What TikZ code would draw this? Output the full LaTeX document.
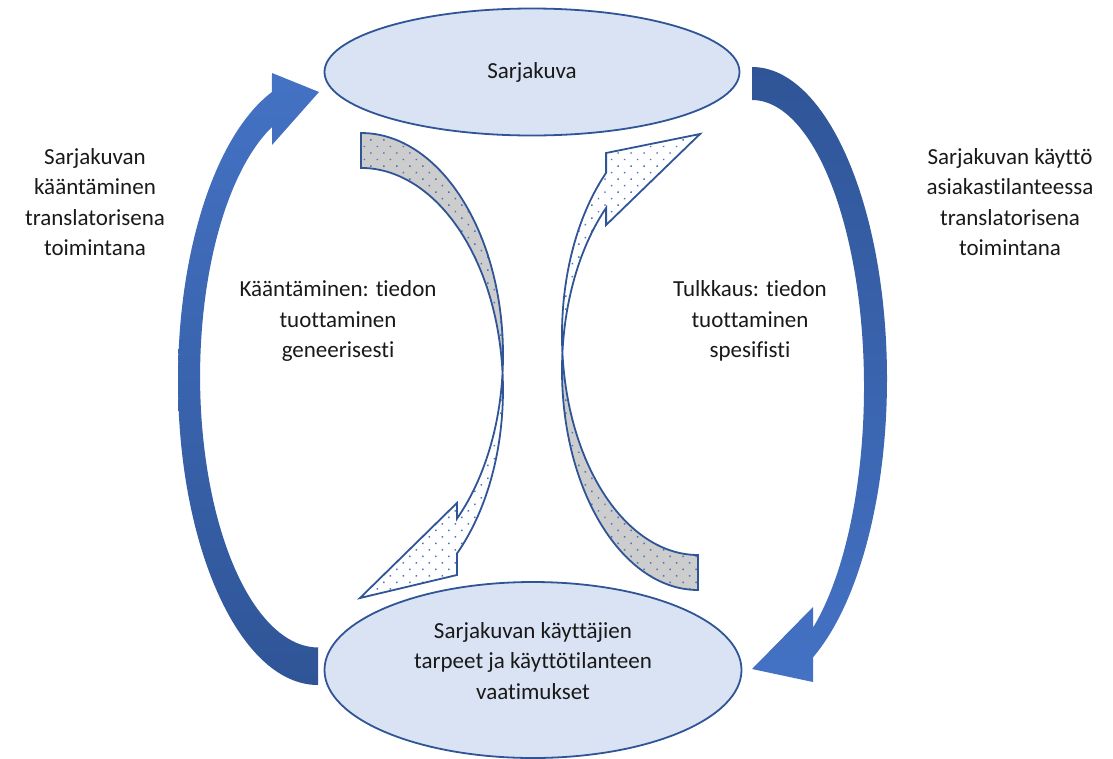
\documentclass[tikz,border=0pt]{standalone}
\usepackage{fontspec}
\setmainfont{Carlito}[Ligatures=NoCommon]
\usepackage{tikz}
\usetikzlibrary{shapes.geometric}
\usetikzlibrary{patterns.meta}
\definecolor{ovalfill}{HTML}{DAE3F3}
\definecolor{ovalline}{HTML}{2F5597}
\definecolor{arrowlight}{HTML}{4472C4}
\definecolor{arrowdark}{HTML}{2F5597}
\definecolor{foldgray}{HTML}{CDCDCD}

\begin{document}
\begin{tikzpicture}[x=1pt, y=-1pt,
    oval/.style={ellipse, draw=ovalline, line width=1.8pt, fill=ovalfill, inner sep=0pt},
    label text/.style={align=center, text=black!90, font=\fontsize{23}{30.5}\selectfont},
    flat arrow/.style={draw=ovalline, line width=1.8pt, pattern={Dots[distance=9.2pt, angle=45, radius=1.05pt]}, pattern color=arrowlight}]
    \useasboundingbox (0,0) rectangle (1113,758);
    \path
        (532,72) node(comic)[oval, minimum width=415pt, minimum height=127pt, label text]{Sarjakuva}
        (533,670) node(needs)[oval, minimum width=417pt, minimum height=176pt]{}
        (533,661) node(needstext)[label text]{Sarjakuvan käyttäjien\\tarpeet ja käyttötilanteen\\vaatimukset}
        (95,202) node(translating)[label text]{Sarjakuvan\\kääntäminen\\translatorisena\\toimintana}
        (1010,202) node(using)[label text]{Sarjakuvan käyttö\\asiakastilanteessa\\translatorisena\\toimintana}
        (338,321) node(generic)[label text]{Kääntäminen: tiedon\\tuottaminen\\geneerisesti}
        (750,321) node(specific)[label text]{Tulkkaus: tiedon\\tuottaminen\\spesifisti};
    \shade[top color=arrowlight, bottom color=arrowdark]
        (318,685) arc[start angle=90, end angle=250.8, x radius=140, y radius=305]
        -- (272,73) -- (319,92) -- (272,145) -- (272,127)
        arc[start angle=247, end angle=90, x radius=118, y radius=271] -- cycle;
    \shade[top color=arrowdark, bottom color=arrowlight]
        (752,67) arc[start angle=270, end angle=423.1, x radius=135, y radius=312]
        -- (813,682) -- (752,669) -- (813,607) -- (813,627.7)
        arc[start angle=417, end angle=270, x radius=112, y radius=287] -- cycle;
    \fill[foldgray] (361,133) arc[start angle=270, end angle=364.52, x radius=142, y radius=222]
        arc[start angle=-4.52, end angle=-90, x radius=142, y radius=222] -- cycle;
    \draw[flat arrow] (361,133) arc[start angle=270, end angle=407.5, x radius=142, y radius=222]
        -- (456.9,503) -- (360,598) -- (456.9,575) -- (456.9,553.6)
        arc[start angle=47.5, end angle=-90, x radius=142, y radius=222] -- cycle;
    \fill[foldgray] (698,590) arc[start angle=90, end angle=184.56, x radius=136, y radius=220]
        arc[start angle=175.44, end angle=90, x radius=136, y radius=220] -- cycle;
    \draw[flat arrow] (698,590) arc[start angle=90, end angle=227.5, x radius=136, y radius=220]
        -- (606.1,225) -- (700,134) -- (606.1,153) -- (606.1,172.8)
        arc[start angle=227.5, end angle=90, x radius=136, y radius=220] -- cycle;
\end{tikzpicture}
\end{document}
